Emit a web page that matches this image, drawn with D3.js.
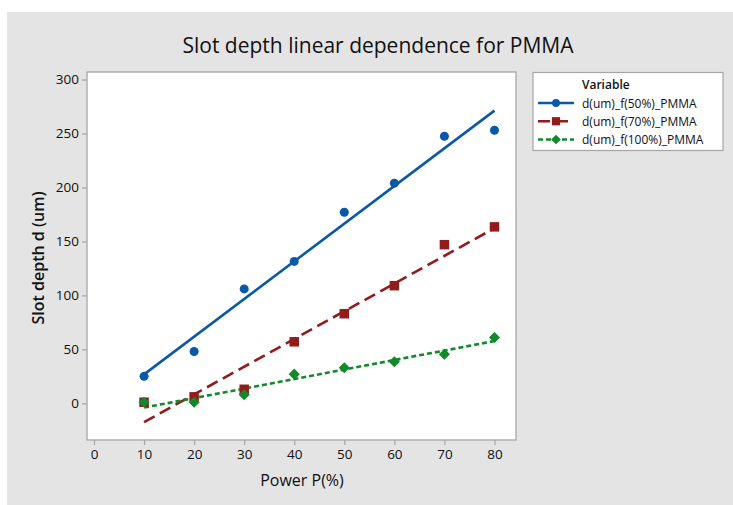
<!DOCTYPE html>
<html>
<head>
<meta charset="utf-8">
<script src="https://cdn.jsdelivr.net/npm/d3@7"></script>
<style>
  body { margin: 0; background: #fff; }
  text { font-family: "Open Sans", "Noto Sans", sans-serif; }
</style>
</head>
<body>
<div id="chart"></div>
<script>
var W = 733, H = 505;

// data
var power = [10, 20, 30, 40, 50, 60, 70, 80];
var d50 = [25, 48, 106, 131.5, 177, 204, 247.5, 253];
var d70 = [1, 6, 13, 57, 83, 109, 147, 163.5];
var d100 = [1, 1, 8, 27, 33, 38.5, 45.5, 61];
var xTicks = [0, 10, 20, 30, 40, 50, 60, 70, 80];
var yTicks = [0, 50, 100, 150, 200, 250, 300];
var seriesNames = ["d(um)_f(50%)_PMMA", "d(um)_f(70%)_PMMA", "d(um)_f(100%)_PMMA"];

var colors = ["#0a58aa", "#921b1b", "#12892a"];
var dashes = [null, "12,6", "5,3"];
var symbols = [d3.symbolCircle, d3.symbolSquare, d3.symbolSquare];
var symSize = [64, 90, 62];
var symRot = [0, 0, 45];

var series = [d50, d70, d100].map(function (vals, i) {
    return { name: seriesNames[i], values: vals, color: colors[i], dash: dashes[i],
             symbol: symbols[i], size: symSize[i], rot: symRot[i] };
});

var plot = { left: 87, top: 72, right: 516, bottom: 440 };

var svg = d3.select("#chart").append("svg")
    .attr("width", W)
    .attr("height", H);

svg.append("rect")
    .attr("x", 7).attr("y", 12)
    .attr("width", W - 7).attr("height", H - 12)
    .attr("fill", "#e4e4e4");

var x = d3.scaleLinear().domain([-1.4, 84.3]).range([plot.left, plot.right]);
var y = d3.scaleLinear().domain([-34, 307]).range([plot.bottom, plot.top]);

svg.append("rect")
    .attr("x", plot.left).attr("y", plot.top)
    .attr("width", plot.right - plot.left).attr("height", plot.bottom - plot.top)
    .attr("fill", "#fff")
    .attr("stroke", "#a6a6a6")
    .attr("stroke-width", 1.3);

// axes
var xAxis = svg.append("g")
    .attr("transform", `translate(0,${plot.bottom})`)
    .call(d3.axisBottom(x).tickValues(xTicks).tickSize(5).tickPadding(4));
var yAxis = svg.append("g")
    .attr("transform", `translate(${plot.left},0)`)
    .call(d3.axisLeft(y).tickValues(yTicks).tickSize(5).tickPadding(3));

[xAxis, yAxis].forEach(function (g) {
    g.select(".domain").remove();
    g.selectAll(".tick line").attr("stroke", "#a6a6a6").attr("stroke-width", 1.2);
    g.selectAll(".tick text")
        .attr("fill", "#111")
        .style("font-size", "13.5px")
        .style("font-family", "'Open Sans', sans-serif");
});

// titles
svg.append("text")
    .attr("x", 378).attr("y", 53)
    .attr("text-anchor", "middle")
    .style("font-size", "21px")
    .attr("fill", "#111")
    .text("Slot depth linear dependence for PMMA");

svg.append("text")
    .attr("x", 302).attr("y", 486)
    .attr("text-anchor", "middle")
    .style("font-size", "16px")
    .attr("fill", "#111")
    .text("Power P(%)");

svg.append("text")
    .attr("transform", "translate(44,258) rotate(-90)")
    .attr("text-anchor", "middle")
    .style("font-size", "16px")
    .style("font-weight", "600")
    .attr("fill", "#111")
    .text("Slot depth d (um)");

// least squares fit lines
function fit(xs, ys) {
    var mx = d3.mean(xs), my = d3.mean(ys);
    var num = d3.sum(xs, (v, i) => (v - mx) * (ys[i] - my));
    var den = d3.sum(xs, (v) => (v - mx) * (v - mx));
    var b = num / den;
    return { a: my - b * mx, b: b };
}

var line = d3.line().x((d) => x(d[0])).y((d) => y(d[1]));

series.forEach(function (s) {
    var f = fit(power, s.values);
    var x0 = d3.min(power), x1 = d3.max(power);
    svg.append("path")
        .datum([[x0, f.a + f.b * x0], [x1, f.a + f.b * x1]])
        .attr("d", line)
        .attr("fill", "none")
        .attr("stroke", s.color)
        .attr("stroke-width", 2.6)
        .attr("stroke-dasharray", s.dash);
});

// points
series.forEach(function (s) {
    svg.append("g").selectAll("path")
        .data(s.values)
        .enter()
        .append("path")
        .attr("transform", (d, i) => `translate(${x(power[i])},${y(d)}) rotate(${s.rot})`)
        .attr("d", d3.symbol().type(s.symbol).size(s.size))
        .attr("fill", s.color);
});

// legend
var lg = svg.append("g");
lg.append("rect")
    .attr("x", 533).attr("y", 72.5)
    .attr("width", 190).attr("height", 78)
    .attr("fill", "#fff")
    .attr("stroke", "#a6a6a6")
    .attr("stroke-width", 1.2);

lg.append("text")
    .attr("x", 582).attr("y", 89)
    .style("font-size", "12px")
    .style("font-weight", "600")
    .attr("fill", "#111")
    .text("Variable");

var rowY = d3.scalePoint().domain(seriesNames).range([103, 139.5]);

series.forEach(function (s) {
    var ry = rowY(s.name);
    lg.append("line")
        .attr("x1", 538).attr("x2", 574)
        .attr("y1", ry).attr("y2", ry)
        .attr("stroke", s.color)
        .attr("stroke-width", 2.6)
        .attr("stroke-dasharray", s.dash);
    lg.append("path")
        .attr("transform", `translate(556,${ry}) rotate(${s.rot})`)
        .attr("d", d3.symbol().type(s.symbol).size(s.size * 0.75))
        .attr("fill", s.color);
    lg.append("text")
        .attr("x", 582).attr("y", ry + 4.5)
        .style("font-size", "12px")
        .attr("fill", "#111")
        .text(s.name);
});
</script>
</body>
</html>
